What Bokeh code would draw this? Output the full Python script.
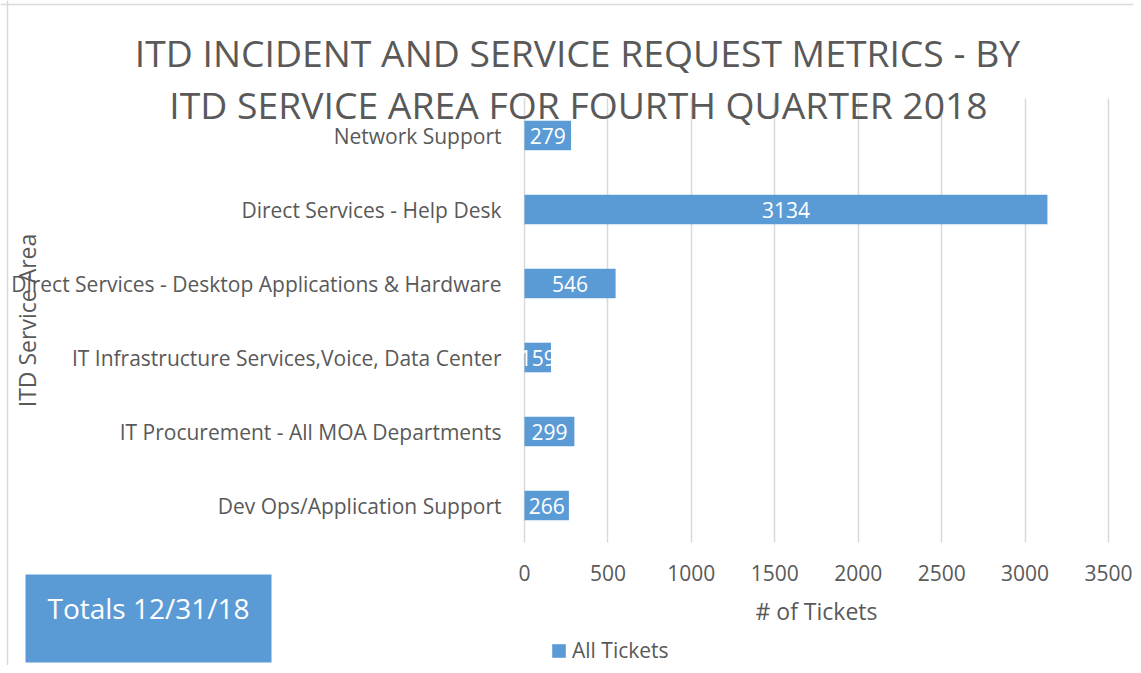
from bokeh.plotting import figure
from bokeh.models import (ColumnDataSource, FixedTicker, Label, Legend, LegendItem,
                          Range1d, BoxAnnotation, Span, Grid)
from bokeh.core.properties import value
from bokeh.embed import file_html
from bokeh.resources import INLINE

# ---- data ----
areas = [
    "Dev Ops/Application Support",
    "IT Procurement - All MOA Departments",
    "IT Infrastructure Services,Voice, Data Center",
    "Direct Services - Desktop Applications & Hardware",
    "Direct Services - Help Desk",
    "Network Support",
]
tickets = [266, 299, 159, 546, 3134, 279]
x_ticks = [0, 500, 1000, 1500, 2000, 2500, 3000, 3500]
title_lines = ["ITD INCIDENT AND SERVICE REQUEST METRICS - BY",
               "ITD SERVICE AREA FOR FOURTH QUARTER 2018"]
series_name = "All Tickets"
x_title = "# of Tickets"
y_title = "ITD Service Area"
note = "Totals 12/31/18"

# ---- style / layout ----
BAR = "#5B9BD5"
GRAY = "#595959"
GRID = "#D9D9D9"
FONT = "Open Sans"

W, H = 1133, 665
PL, PR, PT, PB = 524, 1108, 98, 542      # plot area (pixels)
XMAX = x_ticks[-1]
n = len(areas)

xs = (PR - PL) / XMAX                   # px per ticket
ys = (PB - PT) / n                      # px per category
x0 = -PL / xs
y0 = (PB - H) / ys - 0.5

idx = list(range(n))
src = ColumnDataSource(dict(y=idx, n=tickets, mid=[v / 2 for v in tickets],
                            lbl=[str(v) for v in tickets]))

p = figure(width=W, height=H, output_backend="svg", toolbar_location=None,
           x_range=Range1d(x0, x0 + W / xs), y_range=Range1d(y0, y0 + H / ys),
           min_border=0)
p.outline_line_color = None
p.background_fill_color = "white"
p.border_fill_color = "white"

# grid lines
p.ygrid.visible = False
p.xgrid.ticker = FixedTicker(ticks=x_ticks)
p.xgrid.grid_line_color = GRID
p.xgrid.grid_line_width = 1.5
if "cross_bounds" in Grid.properties():
    p.xgrid.cross_bounds = (-0.5, n - 0.5)
else:
    p.xgrid.visible = False
    p.segment(x0=x_ticks, x1=x_ticks, y0=[-0.5] * len(x_ticks), y1=[n - 0.5] * len(x_ticks),
              line_color=GRID, line_width=1.5)

r = p.hbar(y="y", right="n", left=0, height=0.4, source=src,
           fill_color=BAR, line_color=None)
p.text(x="mid", y="y", text="lbl", source=src, text_color="white",
       text_align="center", text_baseline="middle",
       text_font=value(FONT), text_font_size="21px")

# x axis
xa = p.xaxis[0]
xa.fixed_location = -0.5
xa.bounds = (0, XMAX)
xa.ticker = FixedTicker(ticks=x_ticks)
xa.axis_line_color = None
xa.major_tick_line_color = None
xa.minor_tick_line_color = None
xa.major_label_text_font = FONT
xa.major_label_text_font_size = "21px"
xa.major_label_text_color = GRAY
xa.major_label_standoff = 16
xa.axis_label = x_title
xa.axis_label_text_font = FONT
xa.axis_label_text_font_size = "23px"
xa.axis_label_text_font_style = "normal"
xa.axis_label_text_color = GRAY
xa.axis_label_standoff = 11

# y axis (categories)
ya = p.yaxis[0]
ya.fixed_location = 0
ya.bounds = (-0.5, n - 0.5)
ya.ticker = FixedTicker(ticks=idx)
ya.major_label_overrides = {i: a for i, a in zip(idx, areas)}
ya.axis_line_color = None
ya.major_tick_line_color = None
ya.minor_tick_line_color = None
ya.major_tick_out = 0
ya.major_label_text_font = FONT
ya.major_label_text_font_size = "21px"
ya.major_label_text_color = GRAY
ya.major_label_standoff = 23
ya.axis_label = y_title
ya.axis_label_text_font = FONT
ya.axis_label_text_font_size = "23px"
ya.axis_label_text_font_style = "normal"
ya.axis_label_text_color = GRAY
ya.axis_label_standoff = -35

# title lines
for txt, cx, cy in zip(title_lines, [577, 578], [52, 104]):
    p.add_layout(Label(x=cx, y=H - cy, x_units="screen", y_units="screen",
                       text=txt, text_align="center", text_baseline="middle",
                       text_font=FONT, text_font_size="37.3px", text_color=GRAY))

# note box
p.add_layout(BoxAnnotation(left=25, right=271, top=H - 574, bottom=H - 662,
                           left_units="screen", right_units="screen",
                           top_units="screen", bottom_units="screen",
                           fill_color=BAR, fill_alpha=1, line_color=None))
p.add_layout(Label(x=148, y=H - 607, x_units="screen", y_units="screen",
                   text=note, text_align="center", text_baseline="middle",
                   text_font=FONT, text_font_size="28px", text_color="white"))

# chart border (top and left)
p.add_layout(Span(location=7, location_units="screen", dimension="height",
                  line_color=GRID, line_width=1.5))
p.add_layout(Span(location=H - 4, location_units="screen", dimension="width",
                  line_color=GRID, line_width=1.5))

# legend
leg = Legend(items=[LegendItem(label=series_name, renderers=[r])],
             location=(550, H - 664), orientation="horizontal",
             glyph_width=17, glyph_height=17, label_standoff=5,
             label_text_font=FONT, label_text_font_size="21px",
             label_text_color=GRAY, border_line_color=None,
             background_fill_alpha=0, padding=0, margin=0, spacing=0)
p.add_layout(leg, "center")

open("out.html", "w").write(file_html(p, INLINE))
